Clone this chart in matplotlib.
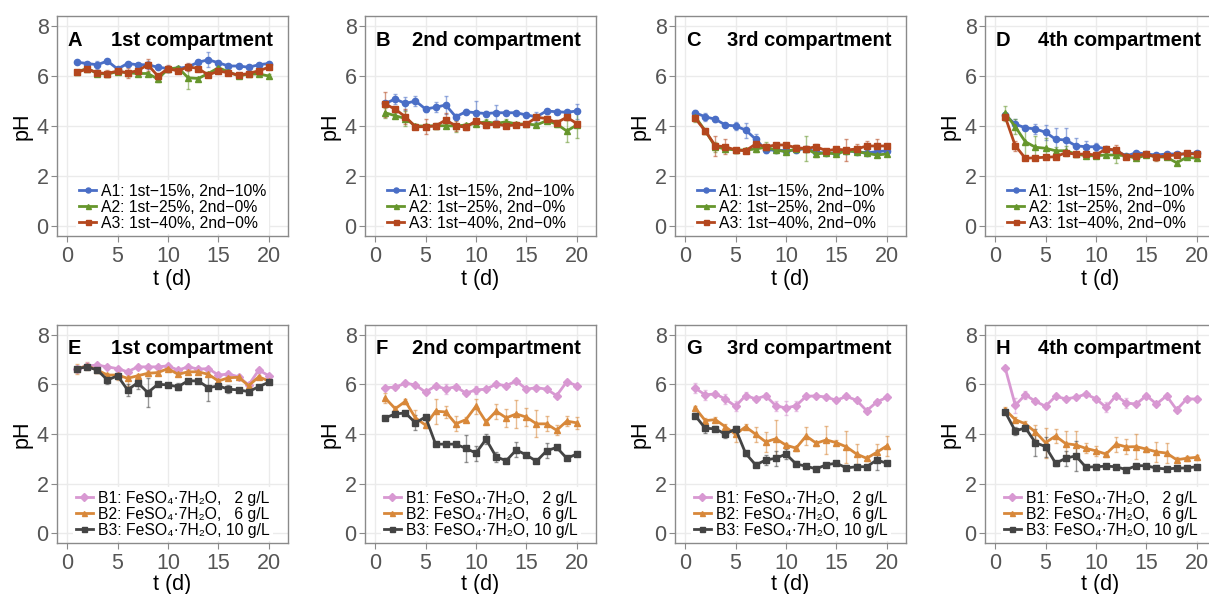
import matplotlib
matplotlib.use("Agg")
from matplotlib import pyplot as plt

plt.rcParams['font.family'] = ['Liberation Sans', 'DejaVu Sans']

days = [1, 2, 3, 4, 5, 6, 7, 8, 9, 10, 11, 12, 13, 14, 15, 16, 17, 18, 19, 20]

labels_a = ["A1: 1st\u221215%, 2nd\u221210%",
            "A2: 1st\u221225%, 2nd\u22120%",
            "A3: 1st\u221240%, 2nd\u22120%"]
labels_b = ["B1: FeSO\u2084\u00b77H\u2082O,   2 g/L",
            "B2: FeSO\u2084\u00b77H\u2082O,   6 g/L",
            "B3: FeSO\u2084\u00b77H\u2082O, 10 g/L"]

titles = ["1st compartment", "2nd compartment", "3rd compartment", "4th compartment"]
letters_a = ["A", "B", "C", "D"]
letters_b = ["E", "F", "G", "H"]

# group A, compartments 1-4 (pH means)
a1 = [[6.55, 6.5, 6.45, 6.6, 6.28, 6.5, 6.45, 6.45, 6.35, 6.3, 6.3, 6.37, 6.55, 6.65, 6.53, 6.4, 6.4, 6.35, 6.45, 6.5],
      [4.9, 5.08, 4.9, 5.0, 4.68, 4.75, 4.84, 4.37, 4.57, 4.53, 4.5, 4.53, 4.53, 4.53, 4.44, 4.37, 4.6, 4.57, 4.55, 4.6],
      [4.53, 4.37, 4.27, 4.04, 4.0, 3.84, 3.47, 3.04, 3.04, 3.01, 3.04, 3.1, 2.95, 2.91, 2.93, 3.01, 2.97, 2.93, 2.97, 3.01],
      [4.44, 4.07, 3.93, 3.88, 3.75, 3.47, 3.44, 3.21, 3.17, 3.17, 3.08, 3.01, 2.8, 2.93, 2.88, 2.84, 2.88, 2.88, 2.88, 2.93]]
a2 = [[6.17, 6.3, 6.1, 6.08, 6.17, 6.13, 6.1, 6.1, 5.88, 6.28, 6.33, 5.93, 5.9, 6.1, 6.33, 6.17, 6.0, 6.08, 6.08, 6.0],
      [4.53, 4.41, 4.3, 4.0, 4.0, 4.01, 4.01, 4.0, 4.04, 4.1, 4.17, 4.1, 4.17, 4.08, 4.08, 4.04, 4.21, 4.08, 3.8, 4.04],
      [4.37, 3.81, 3.17, 3.08, 3.04, 3.04, 3.08, 3.15, 3.04, 2.97, 3.08, 3.1, 2.88, 2.93, 2.88, 3.01, 2.97, 2.91, 2.84, 2.88],
      [4.51, 3.97, 3.37, 3.15, 3.11, 3.01, 3.01, 2.88, 2.81, 2.81, 2.84, 2.84, 2.81, 2.71, 2.84, 2.77, 2.75, 2.53, 2.75, 2.71]]
a3 = [[6.15, 6.28, 6.13, 6.1, 6.2, 6.13, 6.21, 6.45, 6.0, 6.3, 6.2, 6.37, 6.3, 6.04, 6.2, 6.13, 6.04, 6.1, 6.21, 6.35],
      [4.88, 4.67, 4.37, 3.97, 3.97, 4.0, 4.24, 4.01, 3.95, 4.21, 4.04, 4.07, 4.01, 4.04, 4.07, 4.35, 4.3, 4.13, 4.35, 4.1],
      [4.31, 3.8, 3.21, 3.17, 3.04, 3.01, 3.28, 3.17, 3.24, 3.24, 3.13, 3.1, 3.17, 3.01, 3.07, 3.04, 3.08, 3.2, 3.2, 3.2],
      [4.37, 3.21, 2.71, 2.73, 2.75, 2.77, 2.93, 2.87, 2.88, 2.84, 3.08, 3.04, 2.77, 2.81, 2.88, 2.75, 2.81, 2.84, 2.91, 2.87]]

# group A error bars
a1_err = [[0.06, 0.06, 0.15, 0.06, 0.06, 0.08, 0.08, 0.15, 0.1, 0.08, 0.08, 0.1, 0.08, 0.3, 0.08, 0.08, 0.08, 0.08, 0.08, 0.08],
          [0.1, 0.2, 0.25, 0.2, 0.1, 0.2, 0.35, 0.1, 0.1, 0.45, 0.1, 0.3, 0.1, 0.08, 0.08, 0.2, 0.1, 0.1, 0.1, 0.3],
          [0.1, 0.15, 0.1, 0.08, 0.15, 0.3, 0.2, 0.1, 0.08, 0.08, 0.08, 0.08, 0.08, 0.08, 0.08, 0.08, 0.08, 0.08, 0.08, 0.08],
          [0.1, 0.2, 0.1, 0.2, 0.3, 0.45, 0.5, 0.3, 0.25, 0.15, 0.08, 0.08, 0.08, 0.08, 0.08, 0.08, 0.08, 0.08, 0.08, 0.08]]
a2_err = [[0.08, 0.08, 0.1, 0.08, 0.08, 0.08, 0.08, 0.08, 0.1, 0.08, 0.08, 0.45, 0.08, 0.08, 0.08, 0.08, 0.08, 0.08, 0.08, 0.08],
          [0.2, 0.1, 0.3, 0.1, 0.1, 0.1, 0.1, 0.25, 0.1, 0.1, 0.1, 0.1, 0.1, 0.08, 0.08, 0.08, 0.1, 0.1, 0.45, 0.5],
          [0.2, 0.1, 0.2, 0.1, 0.1, 0.1, 0.1, 0.2, 0.1, 0.1, 0.15, 0.5, 0.1, 0.08, 0.08, 0.08, 0.08, 0.08, 0.08, 0.08],
          [0.3, 0.3, 0.55, 0.45, 0.4, 0.15, 0.2, 0.1, 0.08, 0.08, 0.08, 0.3, 0.08, 0.08, 0.08, 0.08, 0.08, 0.08, 0.08, 0.08]]
a3_err = [[0.08, 0.08, 0.08, 0.15, 0.08, 0.2, 0.08, 0.25, 0.08, 0.15, 0.08, 0.15, 0.08, 0.08, 0.08, 0.1, 0.08, 0.08, 0.08, 0.08],
          [0.5, 0.1, 0.3, 0.1, 0.3, 0.1, 0.3, 0.2, 0.1, 0.2, 0.1, 0.1, 0.08, 0.08, 0.08, 0.1, 0.1, 0.1, 0.1, 0.1],
          [0.1, 0.1, 0.4, 0.3, 0.1, 0.1, 0.1, 0.1, 0.1, 0.1, 0.1, 0.1, 0.1, 0.08, 0.1, 0.45, 0.2, 0.2, 0.3, 0.1],
          [0.1, 0.2, 0.08, 0.08, 0.08, 0.08, 0.08, 0.08, 0.08, 0.08, 0.08, 0.2, 0.08, 0.08, 0.08, 0.15, 0.08, 0.08, 0.1, 0.08]]

# group B, compartments 1-4 (pH means)
b1 = [[6.64, 6.75, 6.78, 6.71, 6.64, 6.51, 6.71, 6.71, 6.71, 6.75, 6.58, 6.71, 6.62, 6.64, 6.38, 6.42, 6.31, 5.98, 6.58, 6.35],
      [5.87, 5.89, 6.05, 5.98, 5.69, 5.94, 5.82, 5.91, 5.65, 5.78, 5.81, 6.01, 5.95, 6.14, 5.81, 5.87, 5.81, 5.55, 6.11, 5.95],
      [5.85, 5.58, 5.62, 5.41, 5.12, 5.55, 5.42, 5.54, 5.14, 5.05, 5.14, 5.52, 5.54, 5.49, 5.36, 5.52, 5.36, 4.94, 5.29, 5.48],
      [6.67, 5.16, 5.58, 5.32, 5.12, 5.52, 5.42, 5.48, 5.61, 5.42, 5.08, 5.55, 5.25, 5.21, 5.55, 5.21, 5.54, 4.98, 5.42, 5.41]]
b2 = [[6.64, 6.75, 6.58, 6.38, 6.38, 6.25, 6.35, 6.45, 6.48, 6.64, 6.41, 6.51, 6.51, 6.41, 6.14, 6.27, 6.29, 5.95, 6.31, 6.14],
      [5.45, 5.02, 5.32, 4.65, 4.36, 4.92, 4.89, 4.41, 4.58, 5.12, 4.49, 4.92, 4.65, 4.81, 4.68, 4.41, 4.41, 4.15, 4.52, 4.45],
      [5.05, 4.54, 4.58, 4.29, 3.99, 4.29, 3.99, 3.68, 3.81, 3.55, 3.43, 3.92, 3.63, 3.76, 3.65, 3.48, 3.19, 3.02, 3.26, 3.52],
      [4.98, 4.58, 4.41, 4.08, 3.65, 3.92, 3.61, 3.56, 3.42, 3.32, 3.19, 3.59, 3.48, 3.49, 3.39, 3.28, 3.23, 2.96, 3.02, 3.06]]
b3 = [[6.64, 6.71, 6.58, 6.18, 6.35, 5.78, 6.07, 5.67, 6.01, 5.98, 5.91, 6.15, 6.14, 5.87, 5.94, 5.81, 5.78, 5.71, 5.91, 6.09],
      [4.65, 4.81, 4.85, 4.45, 4.69, 3.59, 3.59, 3.59, 3.42, 3.23, 3.79, 3.08, 2.92, 3.36, 3.15, 2.9, 3.32, 3.46, 3.02, 3.19],
      [4.74, 4.23, 4.21, 3.99, 4.21, 3.22, 2.75, 2.95, 3.02, 3.19, 2.79, 2.7, 2.59, 2.76, 2.82, 2.63, 2.68, 2.68, 2.95, 2.82],
      [4.89, 4.12, 4.25, 3.65, 3.49, 2.82, 3.02, 3.12, 2.66, 2.68, 2.7, 2.68, 2.56, 2.72, 2.72, 2.62, 2.59, 2.62, 2.63, 2.68]]

# group B error bars
b1_err = [[0.08, 0.08, 0.08, 0.08, 0.08, 0.1, 0.08, 0.08, 0.08, 0.08, 0.08, 0.08, 0.08, 0.08, 0.08, 0.08, 0.08, 0.08, 0.08, 0.08],
          [0.08, 0.08, 0.1, 0.08, 0.08, 0.08, 0.2, 0.08, 0.08, 0.15, 0.08, 0.08, 0.08, 0.08, 0.08, 0.08, 0.08, 0.08, 0.08, 0.08],
          [0.2, 0.2, 0.1, 0.2, 0.2, 0.15, 0.1, 0.1, 0.2, 0.3, 0.2, 0.08, 0.08, 0.08, 0.08, 0.08, 0.08, 0.08, 0.1, 0.08],
          [0.08, 0.3, 0.15, 0.08, 0.08, 0.08, 0.08, 0.08, 0.08, 0.08, 0.2, 0.08, 0.2, 0.08, 0.08, 0.08, 0.08, 0.08, 0.08, 0.08]]
b2_err = [[0.2, 0.15, 0.08, 0.08, 0.2, 0.3, 0.08, 0.1, 0.08, 0.08, 0.08, 0.08, 0.08, 0.08, 0.08, 0.1, 0.08, 0.08, 0.08, 0.08],
          [0.2, 0.1, 0.1, 0.3, 0.1, 0.5, 0.25, 0.3, 0.1, 0.3, 0.1, 0.3, 0.35, 0.55, 0.35, 0.55, 0.3, 0.2, 0.2, 0.25],
          [0.1, 0.1, 0.1, 0.1, 0.3, 0.1, 0.3, 0.4, 0.75, 0.1, 0.1, 0.35, 0.1, 0.55, 0.1, 0.65, 0.4, 0.1, 0.35, 0.4],
          [0.1, 0.1, 0.1, 0.3, 0.6, 0.3, 0.5, 0.55, 0.2, 0.2, 0.1, 0.3, 0.3, 0.5, 0.1, 0.4, 0.4, 0.1, 0.1, 0.1]]
b3_err = [[0.08, 0.08, 0.08, 0.15, 0.08, 0.25, 0.25, 0.6, 0.08, 0.08, 0.15, 0.08, 0.08, 0.55, 0.08, 0.15, 0.08, 0.08, 0.08, 0.08],
          [0.08, 0.08, 0.08, 0.3, 0.08, 0.08, 0.08, 0.08, 0.55, 0.3, 0.2, 0.2, 0.1, 0.3, 0.08, 0.08, 0.3, 0.1, 0.08, 0.08],
          [0.1, 0.2, 0.1, 0.15, 0.1, 0.1, 0.1, 0.2, 0.3, 0.2, 0.1, 0.1, 0.08, 0.08, 0.08, 0.08, 0.08, 0.08, 0.4, 0.08],
          [0.1, 0.15, 0.1, 0.55, 0.4, 0.1, 0.3, 0.6, 0.1, 0.1, 0.08, 0.08, 0.08, 0.08, 0.08, 0.08, 0.08, 0.08, 0.08, 0.08]]

colors_a = ["#4a6ec6", "#66962c", "#b4471e"]
colors_b = ["#d898d2", "#d8883a", "#444444"]
markers_a = ["o", "^", "s"]
markers_b = ["D", "^", "s"]

W, H = 1209, 594
lefts = [57, 365, 675, 985]
pw = 231
rows = [(16, 236), (325, 543)]
xlabel_pads = [2, 0]


def draw_panel(ax, letter, title, means, errs, colors, markers, labels, xpad):
    ax.set_xlim(-1, 21.9)
    ax.set_ylim(-0.4, 8.4)
    ax.set_xticks([0, 5, 10, 15, 20])
    ax.set_yticks([0, 2, 4, 6, 8])
    ax.grid(True, color="#ebebeb", linewidth=1)
    ax.set_axisbelow(True)
    for s in ax.spines.values():
        s.set_color("#8a8a8a")
        s.set_linewidth(1)
    ax.tick_params(colors="#8a8a8a", labelcolor="#555555", labelsize=15.5,
                   length=4, width=0.8, pad=2)
    ax.tick_params(axis="x", pad=3)
    for m, e, c, mk, lb in zip(means, errs, colors, markers, labels):
        ax.errorbar(days, m, yerr=e, fmt="none", ecolor=c, alpha=0.55,
                    elinewidth=1, capsize=1.5, zorder=2)
        ax.plot(days, m, color=c, marker=mk, markersize=4.5, linewidth=2,
                label=lb, zorder=3)
    ax.set_ylabel("pH", fontsize=15.5, labelpad=3)
    ax.set_xlabel("t (d)", fontsize=15.5, labelpad=xpad)
    ax.text(0.047, 0.89, letter, transform=ax.transAxes, fontsize=14.5,
            fontweight="bold", va="center", ha="left")
    ax.text(0.935, 0.89, title, transform=ax.transAxes, fontsize=14.5,
            fontweight="bold", va="center", ha="right")
    leg = ax.legend(loc="lower center", fontsize=11.3, frameon=True,
                    framealpha=1, edgecolor="none", handlelength=1.1,
                    handletextpad=0.3, labelspacing=0.06, borderpad=0.2,
                    borderaxespad=0.15, markerscale=0.8)
    leg.get_frame().set_linewidth(0)


fig = plt.figure(figsize=(W / 100, H / 100), dpi=100)
for r, (top, bottom) in enumerate(rows):
    for i in range(4):
        ax = fig.add_axes([lefts[i] / W, 1 - bottom / H, pw / W, (bottom - top) / H])
        if r == 0:
            draw_panel(ax, letters_a[i], titles[i],
                       [a1[i], a2[i], a3[i]], [a1_err[i], a2_err[i], a3_err[i]],
                       colors_a, markers_a, labels_a, xlabel_pads[r])
        else:
            draw_panel(ax, letters_b[i], titles[i],
                       [b1[i], b2[i], b3[i]], [b1_err[i], b2_err[i], b3_err[i]],
                       colors_b, markers_b, labels_b, xlabel_pads[r])

fig.savefig("out.png", dpi=100)
